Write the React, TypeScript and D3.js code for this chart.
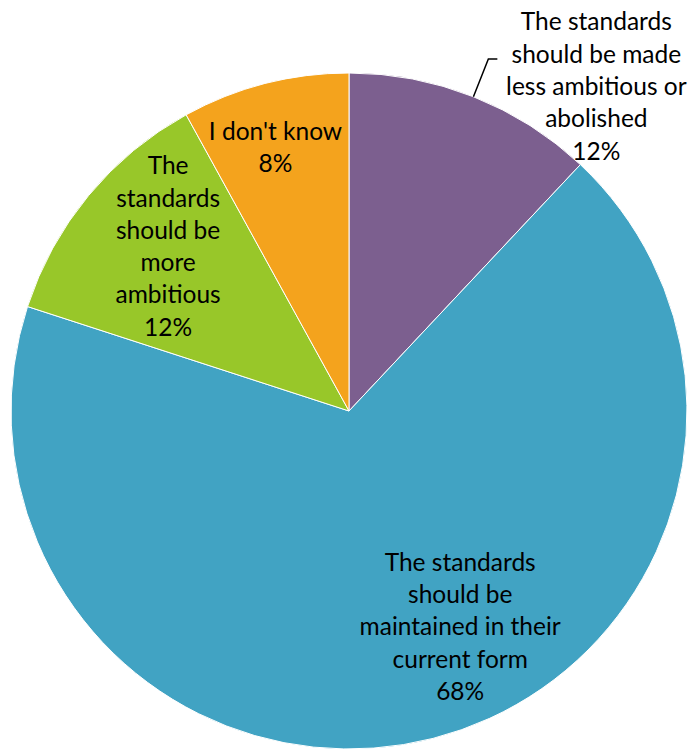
import React from "react";
import * as d3 from "d3";

const categories = [
  "The standards should be made less ambitious or abolished",
  "The standards should be maintained in their current form",
  "The standards should be more ambitious",
  "I don't know",
];
const values = [12, 68, 12, 8];
const labelLines = [
  ["The standards", "should be made", "less ambitious or", "abolished", "12%"],
  ["The standards", "should be", "maintained in their", "current form", "68%"],
  ["The", "standards", "should be", "more", "ambitious", "12%"],
  ["I don't know", "8%"],
];
const colors = ["#7C5F8F", "#41A3C3", "#98C729", "#F4A31D"];

// layout: label anchor = arc centroid at r*R plus offset; anchor is the middle baseline
const labelLayout = [
  { r: 1.12, dx: 108, dy: 36 },
  { r: 0.74, dx: 49, dy: -18 },
  { r: 0.71, dx: 4, dy: -3 },
  { r: 0.78, dx: -8, dy: 0 },
];

const W = 689;
const H = 749;
const cx = 349;
const cy = 411;
const R = 338;
const FS = 24.5;
const LH = 32.3;

export default function App() {
  const pie = d3.pie<number>().sort(null).value((d) => d)(values);
  const arc = d3.arc<d3.PieArcDatum<number>>().innerRadius(0).outerRadius(R);

  return (
    <svg
      width={W}
      height={H}
      style={{ position: "absolute", left: 0, top: 0, display: "block" }}
      fontFamily="Lato, 'Open Sans', sans-serif"
    >
      <g transform={`translate(${cx},${cy})`}>
        {pie.map((p, i) => (
          <path key={categories[i]} d={arc(p) || ""} fill={colors[i]} stroke="#fff" strokeWidth={1} />
        ))}
        {pie.map((p, i) => {
          const lay = labelLayout[i];
          const mid = (p.startAngle + p.endAngle) / 2;
          const lr = R * lay.r;
          const x = Math.sin(mid) * lr + lay.dx;
          const y = -Math.cos(mid) * lr + lay.dy;
          const lines = labelLines[i];
          const y0 = y - ((lines.length - 1) * LH) / 2;
          return (
            <text key={"t" + i} textAnchor="middle" fontSize={FS} fill="#000">
              {lines.map((l, j) => (
                <tspan key={j} x={x} y={y0 + j * LH}>
                  {l}
                </tspan>
              ))}
            </text>
          );
        })}
        {(() => {
          const p = pie[0];
          const mid = (p.startAngle + p.endAngle) / 2;
          const x1 = Math.sin(mid) * R;
          const y1 = -Math.cos(mid) * R;
          const x2 = Math.sin(mid) * R * 1.12;
          const y2 = -Math.cos(mid) * R * 1.12;
          return (
            <polyline
              points={`${x1},${y1} ${x2},${y2} ${x2 + 9},${y2}`}
              fill="none"
              stroke="#000"
              strokeWidth={1.5}
            />
          );
        })()}
      </g>
    </svg>
  );
}
